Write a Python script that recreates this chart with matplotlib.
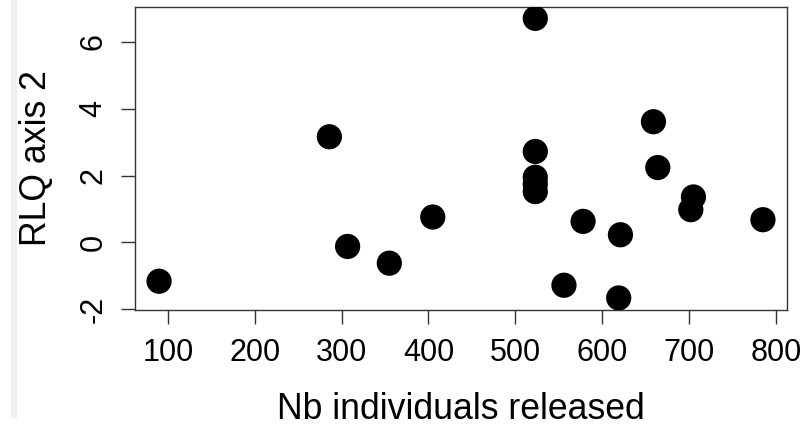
import matplotlib.pyplot as plt
from matplotlib.patches import Rectangle

plt.rcParams['font.family'] = ['Liberation Sans', 'DejaVu Sans']
plt.rcParams['axes.unicode_minus'] = False

# number of released individuals and position on the second RLQ axis
nb_released = [90, 286, 307, 355, 405, 523, 523, 523, 523, 523,
               556, 578, 619, 621, 659, 664, 702, 705, 785]
rlq_axis2 = [-1.16, 3.16, -0.12, -0.62, 0.76, 6.70, 2.72, 1.95, 1.75, 1.52,
             -1.28, 0.63, -1.66, 0.23, 3.61, 2.24, 0.98, 1.36, 0.68]

x_ticks = [100, 200, 300, 400, 500, 600, 700, 800]
y_ticks = [-2, 0, 2, 4, 6]


def build_plot():
    fig = plt.figure(figsize=(8.05, 4.26), dpi=100)
    fig.patches.append(Rectangle((11 / 805, 9 / 426), 5 / 805, 417 / 426,
                                 transform=fig.transFigure, color='#f0f0f0', zorder=0))
    ax = fig.add_axes([135 / 805, 116 / 426, 652 / 805, 303 / 426])

    ax.scatter(nb_released, rlq_axis2, s=330, color='black', edgecolors='none', zorder=3)

    ax.set_xlim(62.3, 812.7)
    ax.set_ylim(-2.02, 7.04)
    ax.set_xticks(x_ticks)
    ax.set_yticks(y_ticks)

    for side in ax.spines.values():
        side.set_linewidth(1.0)
        side.set_color('#333333')

    ax.tick_params(axis='both', length=10, width=1.0, color='#333333', labelsize=22)
    ax.tick_params(axis='x', pad=10)
    ax.tick_params(axis='y', pad=9, labelrotation=90)
    for lbl in ax.get_yticklabels():
        lbl.set_va('center')

    ax.set_xlabel('Nb individuals released', fontsize=25.7)
    ax.set_ylabel('RLQ axis 2', fontsize=25.7)
    ax.xaxis.set_label_coords(0.5, -0.272)
    ax.yaxis.set_label_coords(-0.125, 0.5)

    fig.savefig('out.png', dpi=100)


if __name__ == '__main__':
    build_plot()
